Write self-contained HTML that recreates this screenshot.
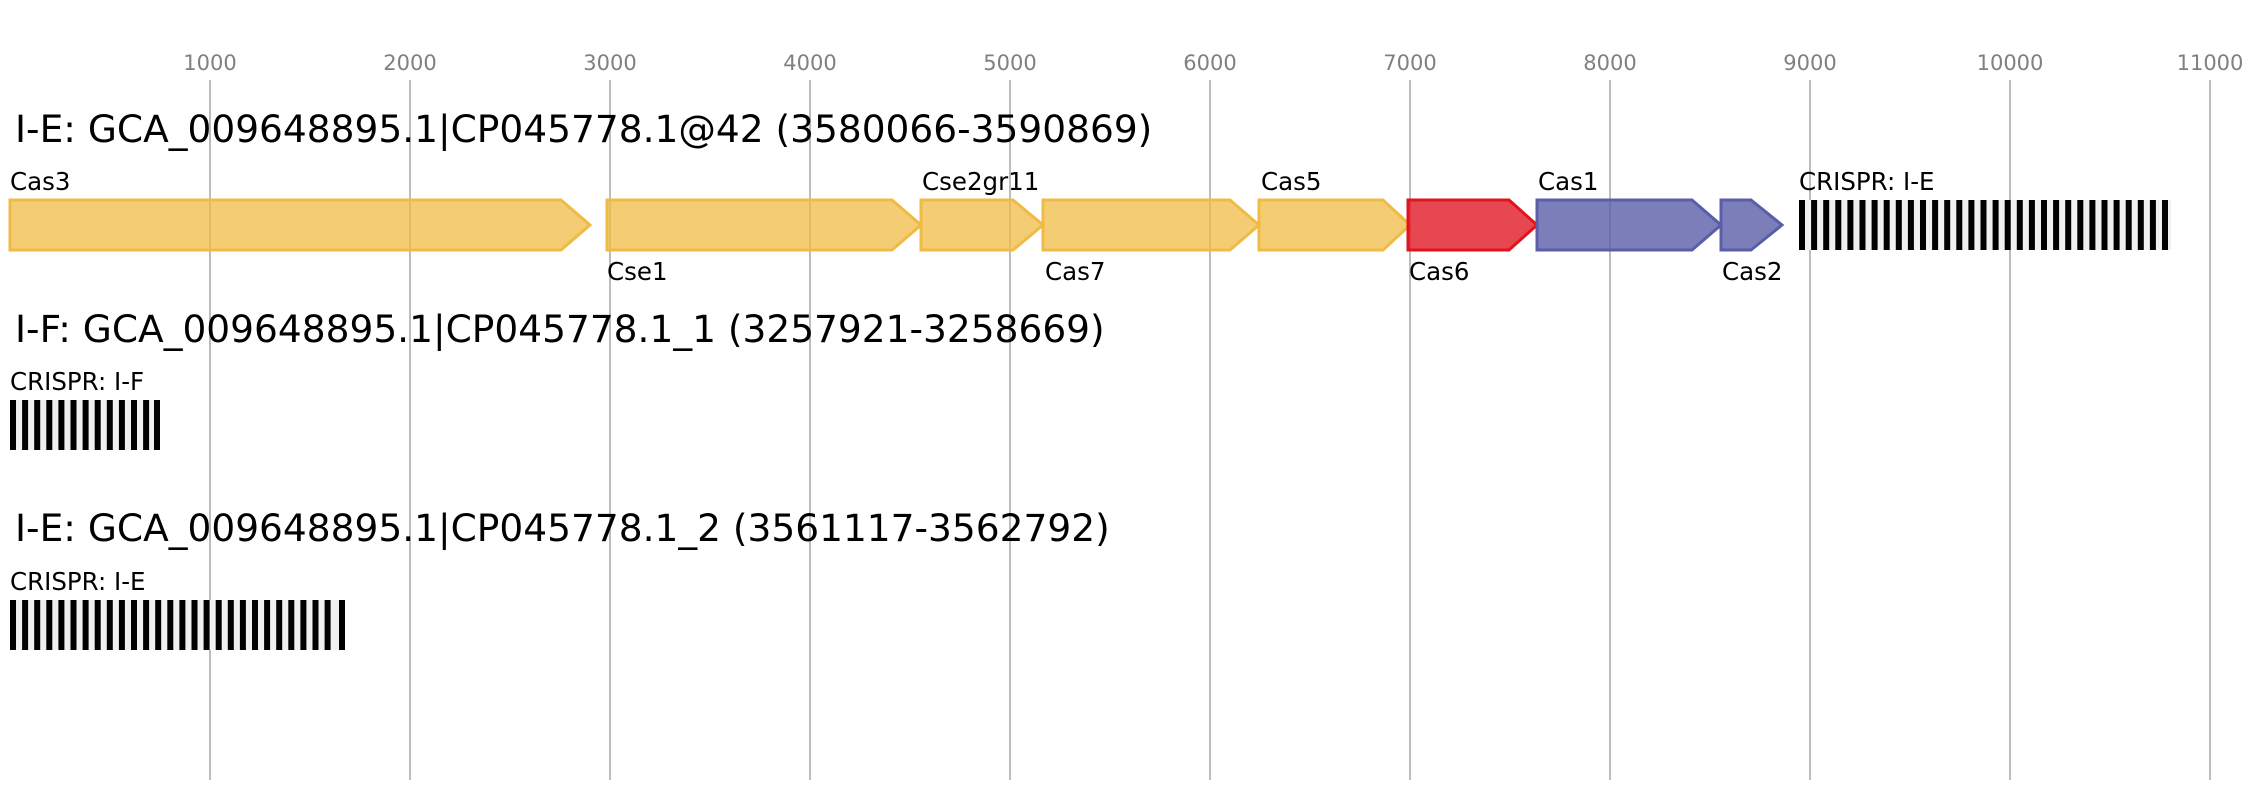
<!DOCTYPE html>
<html><head><meta charset="utf-8"><style>
html,body{margin:0;padding:0;background:#fff;}
svg{display:block;font-family:"DejaVu Sans","Liberation Sans",sans-serif;}
</style></head><body>
<svg width="2261" height="800" xmlns="http://www.w3.org/2000/svg">
<g stroke="#bdbdbd" stroke-width="2">
<line x1="210" y1="80" x2="210" y2="780"/><line x1="410" y1="80" x2="410" y2="780"/><line x1="610" y1="80" x2="610" y2="780"/><line x1="810" y1="80" x2="810" y2="780"/><line x1="1010" y1="80" x2="1010" y2="780"/><line x1="1210" y1="80" x2="1210" y2="780"/><line x1="1410" y1="80" x2="1410" y2="780"/><line x1="1610" y1="80" x2="1610" y2="780"/><line x1="1810" y1="80" x2="1810" y2="780"/><line x1="2010" y1="80" x2="2010" y2="780"/><line x1="2210" y1="80" x2="2210" y2="780"/>
</g>
<g fill="#808080" font-size="21" text-anchor="middle">
<text x="210" y="70">1000</text><text x="410" y="70">2000</text><text x="610" y="70">3000</text><text x="810" y="70">4000</text><text x="1010" y="70">5000</text><text x="1210" y="70">6000</text><text x="1410" y="70">7000</text><text x="1610" y="70">8000</text><text x="1810" y="70">9000</text><text x="2010" y="70">10000</text><text x="2210" y="70">11000</text>
</g>
<g font-size="37.5" fill="#000">
<text x="15" y="142">I-E: GCA_009648895.1|CP045778.1@42 (3580066-3590869)</text>
<text x="15" y="342">I-F: GCA_009648895.1|CP045778.1_1 (3257921-3258669)</text>
<text x="15" y="541">I-E: GCA_009648895.1|CP045778.1_2 (3561117-3562792)</text>
</g>
<g stroke-width="3" stroke-linejoin="miter">
<g fill="#efbb45" fill-opacity="0.75" stroke="#efbb45">
<path d="M10,200 H561 L590,225 L561,250 H10 Z"/>
<path d="M607,200 H892 L921,225 L892,250 H607 Z"/>
<path d="M921,200 H1013 L1043,225 L1013,250 H921 Z"/>
<path d="M1043,200 H1230 L1259,225 L1230,250 H1043 Z"/>
<path d="M1259,200 H1383 L1410,225 L1383,250 H1259 Z"/>
</g>
<path d="M1408,200 H1509 L1537,225 L1509,250 H1408 Z" fill="#e0131f" fill-opacity="0.78" stroke="#e0131f"/>
<g fill="#5a5ea8" fill-opacity="0.8" stroke="#5a5ea8">
<path d="M1537,200 H1692 L1721,225 L1692,250 H1537 Z"/>
<path d="M1721,200 H1751 L1782,225 L1751,250 H1721 Z"/>
</g>
</g>
<g font-size="24.5" fill="#000">
<text x="10" y="190">Cas3</text>
<text x="607" y="280">Cse1</text>
<text x="922" y="190">Cse2gr11</text>
<text x="1045" y="280">Cas7</text>
<text x="1261" y="190">Cas5</text>
<text x="1409" y="280">Cas6</text>
<text x="1538" y="190">Cas1</text>
<text x="1722" y="280">Cas2</text>
<text x="1799" y="190">CRISPR: I-E</text>
<text x="10" y="390">CRISPR: I-F</text>
<text x="10" y="590">CRISPR: I-E</text>
</g>
<rect x="1799" y="200" width="372" height="50" fill="#f0f0f0"/>
<rect x="10" y="400" width="150" height="50" fill="#f0f0f0"/>
<rect x="10" y="600" width="335" height="50" fill="#f0f0f0"/>
<g fill="#000">
<rect x="1799" y="200" width="6" height="50"/><rect x="1811.1" y="200" width="6" height="50"/><rect x="1823.2" y="200" width="6" height="50"/><rect x="1835.3" y="200" width="6" height="50"/><rect x="1847.4" y="200" width="6" height="50"/><rect x="1859.5" y="200" width="6" height="50"/><rect x="1871.6" y="200" width="6" height="50"/><rect x="1883.7" y="200" width="6" height="50"/><rect x="1895.8" y="200" width="6" height="50"/><rect x="1907.9" y="200" width="6" height="50"/><rect x="1920" y="200" width="6" height="50"/><rect x="1932.1" y="200" width="6" height="50"/><rect x="1944.2" y="200" width="6" height="50"/><rect x="1956.3" y="200" width="6" height="50"/><rect x="1968.4" y="200" width="6" height="50"/><rect x="1980.5" y="200" width="6" height="50"/><rect x="1992.6" y="200" width="6" height="50"/><rect x="2004.7" y="200" width="6" height="50"/><rect x="2016.8" y="200" width="6" height="50"/><rect x="2028.9" y="200" width="6" height="50"/><rect x="2041" y="200" width="6" height="50"/><rect x="2053.1" y="200" width="6" height="50"/><rect x="2065.2" y="200" width="6" height="50"/><rect x="2077.3" y="200" width="6" height="50"/><rect x="2089.4" y="200" width="6" height="50"/><rect x="2101.5" y="200" width="6" height="50"/><rect x="2113.6" y="200" width="6" height="50"/><rect x="2125.7" y="200" width="6" height="50"/><rect x="2137.8" y="200" width="6" height="50"/><rect x="2149.9" y="200" width="6" height="50"/><rect x="2162" y="200" width="6" height="50"/>
<rect x="10" y="400" width="6" height="50"/><rect x="22.1" y="400" width="6" height="50"/><rect x="34.2" y="400" width="6" height="50"/><rect x="46.3" y="400" width="6" height="50"/><rect x="58.4" y="400" width="6" height="50"/><rect x="70.5" y="400" width="6" height="50"/><rect x="82.6" y="400" width="6" height="50"/><rect x="94.7" y="400" width="6" height="50"/><rect x="106.8" y="400" width="6" height="50"/><rect x="118.9" y="400" width="6" height="50"/><rect x="131" y="400" width="6" height="50"/><rect x="143.1" y="400" width="6" height="50"/><rect x="154" y="400" width="6" height="50"/>
<rect x="10" y="600" width="6" height="50"/><rect x="22.1" y="600" width="6" height="50"/><rect x="34.2" y="600" width="6" height="50"/><rect x="46.3" y="600" width="6" height="50"/><rect x="58.4" y="600" width="6" height="50"/><rect x="70.5" y="600" width="6" height="50"/><rect x="82.6" y="600" width="6" height="50"/><rect x="94.7" y="600" width="6" height="50"/><rect x="106.8" y="600" width="6" height="50"/><rect x="118.9" y="600" width="6" height="50"/><rect x="131" y="600" width="6" height="50"/><rect x="143.1" y="600" width="6" height="50"/><rect x="155.2" y="600" width="6" height="50"/><rect x="167.3" y="600" width="6" height="50"/><rect x="179.4" y="600" width="6" height="50"/><rect x="191.5" y="600" width="6" height="50"/><rect x="203.6" y="600" width="6" height="50"/><rect x="215.7" y="600" width="6" height="50"/><rect x="227.8" y="600" width="6" height="50"/><rect x="239.9" y="600" width="6" height="50"/><rect x="252" y="600" width="6" height="50"/><rect x="264.1" y="600" width="6" height="50"/><rect x="276.2" y="600" width="6" height="50"/><rect x="288.3" y="600" width="6" height="50"/><rect x="300.4" y="600" width="6" height="50"/><rect x="312.5" y="600" width="6" height="50"/><rect x="324.6" y="600" width="6" height="50"/><rect x="339" y="600" width="6" height="50"/>
</g>
</svg>
</body></html>
